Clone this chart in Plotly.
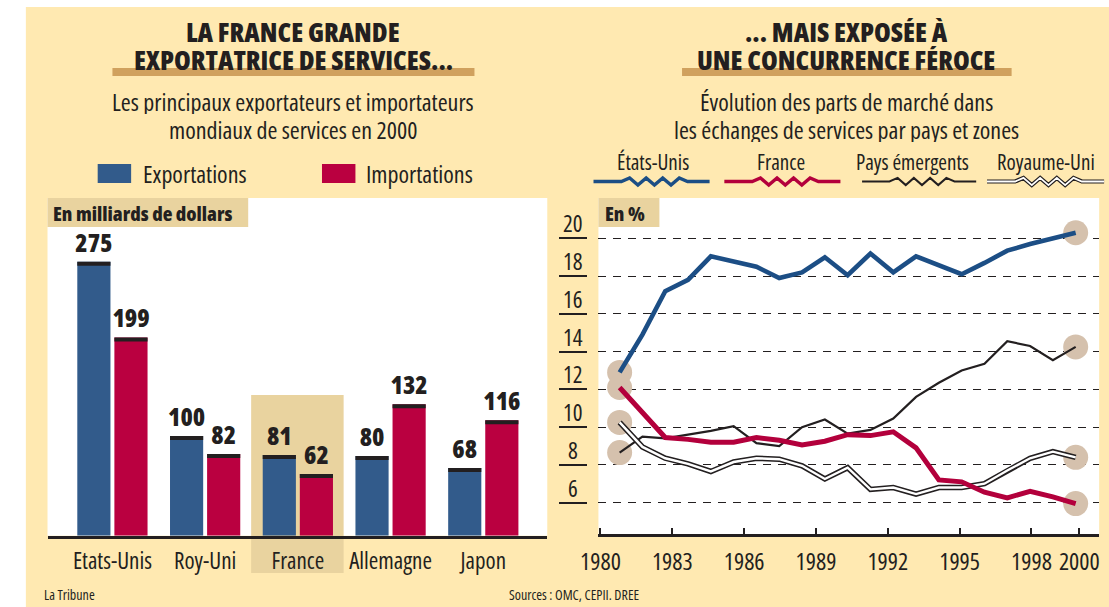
import plotly.graph_objects as go

W, H = 1109, 607

# ---------------- data ----------------
CATEGORIES = ["Etats-Unis", "Roy-Uni", "France", "Allemagne", "Japon"]
EXPORTS = [275, 100, 81, 80, 68]
IMPORTS = [199, 82, 62, 132, 116]

YEARS = list(range(1980, 2001))
ETATS_UNIS = [12.9, 14.9, 17.2, 17.8, 19.05, 18.8, 18.5, 17.9, 18.2, 19.0, 18.05,
              19.2, 18.2, 19.05, 18.6, 18.1, 18.7, 19.35, 19.7, 20.0, 20.3]
FRANCE = [12.1, 10.8, 9.45, 9.35, 9.2, 9.2, 9.45, 9.3, 9.05, 9.25, 9.6,
          9.55, 9.75, 8.9, 7.2, 7.1, 6.55, 6.25, 6.6, 6.3, 5.95]
PAYS_EMERGENTS = [8.65, 9.5, 9.4, 9.6, 9.8, 10.05, 9.15, 9.0, 10.0, 10.4, 9.65,
                  9.85, 10.45, 11.6, 12.35, 13.0, 13.35, 14.55, 14.3, 13.55, 14.25]
ROYAUME_UNI = [10.25, 8.95, 8.35, 8.05, 7.65, 8.15, 8.35, 8.3, 7.95, 7.25, 7.85,
               6.7, 6.8, 6.45, 6.8, 6.8, 7.0, 7.7, 8.35, 8.7, 8.4]

Y_TICKS = [6, 8, 10, 12, 14, 16, 18, 20]
X_TICK_YEARS = [1980, 1983, 1986, 1989, 1992, 1995, 1998, 2000]

# ---------------- style ----------------
FONT = "Open Sans"
INK = "#231F20"
YELLOW = "#FFE9B1"
TAN = "#E9D39F"
UNDERLINE = "#D0A15E"
CIRCLE = "#D5C1AD"
BAR_BLUE = "#325B8B"
BAR_RED = "#BA0040"
US_BLUE = "#1C4E85"
FR_RED = "#B3003C"


def cond(text, stretch="condensed"):
    return f"<span style='font-stretch:{stretch}'>{text}</span>"


def px(x):
    return x / W


def py(y):
    return 1 - y / H


def rect(x0, y0, x1, y1, color, layer="below"):
    return dict(type="rect", xref="paper", yref="paper", x0=px(x0), x1=px(x1),
                y0=py(y1), y1=py(y0), fillcolor=color, line=dict(width=0), layer=layer)


def wave_path(x0, x1, y, amp=3.6):
    w = x1 - x0
    zs = x0 + 0.24 * w
    ze = x0 + 0.81 * w
    pts = [(x0, y), (zs, y)]
    step = (ze - zs) / 8
    for j in range(1, 8):
        pts.append((zs + j * step, y - amp if j % 2 == 1 else y + amp))
    pts.append((ze, y))
    pts.append((x1, y))
    return "M " + " L ".join(f"{px(a):.5f},{py(b):.5f}" for a, b in pts)


def wave(x0, x1, y, color, width):
    return dict(type="path", xref="paper", yref="paper", path=wave_path(x0, x1, y),
                line=dict(color=color, width=width), layer="above")


shapes = [
    rect(8, 7, 1109, 607, YELLOW),
    rect(30, 198, 538, 535.7, "white"),
    rect(590, 198, 1099, 534.3, "white"),
    rect(30, 198, 234, 227, TAN),
    rect(590, 198, 652, 227, TAN),
    rect(237, 395, 331, 573, TAN),
    rect(96, 68, 464, 76, UNDERLINE),
    rect(675, 68, 1010, 76, UNDERLINE),
    rect(81, 164, 115, 183, BAR_BLUE),
    rect(309, 164, 343, 183, BAR_RED),
    wave(585, 703, 181.5, US_BLUE, 3.4),
    wave(718, 836, 181.5, FR_RED, 3.4),
    wave(858, 974, 181.5, INK, 2),
    wave(985, 1104, 181.5, INK, 4.2),
    wave(985, 1104, 181.5, "white", 1.8),
]

fig = go.Figure()

# ---------------- bar chart ----------------
CAP = 4
fig.add_trace(go.Bar(x=CATEGORIES, y=EXPORTS, marker=dict(color=BAR_BLUE, line=dict(width=0)),
                     offsetgroup="exp", xaxis="x", yaxis="y", showlegend=False, name="Exportations"))
fig.add_trace(go.Bar(x=CATEGORIES, y=IMPORTS, marker=dict(color=BAR_RED, line=dict(width=0)),
                     offsetgroup="imp", xaxis="x", yaxis="y", showlegend=False, name="Importations"))
for vals, grp in ((EXPORTS, "exp"), (IMPORTS, "imp")):
    fig.add_trace(go.Bar(x=CATEGORIES, y=[CAP] * len(vals), base=[v - CAP for v in vals],
                         marker=dict(color=INK, line=dict(width=0)), offsetgroup=grp,
                         text=[cond(str(v)) for v in vals], textposition="outside",
                         textfont=dict(family=FONT, size=25, color=INK, weight=800),
                         constraintext="none", cliponaxis=False, hoverinfo="skip",
                         xaxis="x", yaxis="y", showlegend=False))

# ---------------- line chart ----------------
for s in (ETATS_UNIS, FRANCE, ROYAUME_UNI, PAYS_EMERGENTS):
    fig.add_trace(go.Scatter(x=[YEARS[0], YEARS[-1]], y=[s[0], s[-1]], mode="markers",
                             marker=dict(size=25, color=CIRCLE, line=dict(width=0)),
                             xaxis="x2", yaxis="y2", showlegend=False, hoverinfo="skip"))
series = [
    (PAYS_EMERGENTS, INK, 2.2, "Pays émergents"),
    (ROYAUME_UNI, INK, 5.5, "Royaume-Uni"),
    (ROYAUME_UNI, "white", 2.4, "Royaume-Uni"),
    (FRANCE, FR_RED, 5, "France"),
    (ETATS_UNIS, US_BLUE, 4.6, "États-Unis"),
]
for s, c, w, n in series:
    fig.add_trace(go.Scatter(x=YEARS, y=s, mode="lines", line=dict(color=c, width=w), name=n,
                             xaxis="x2", yaxis="y2", showlegend=False))

# tick positions on the reference axis are drawn on a slightly wider scale than the data
TICK_POS = [1979.16 + (t - 1980) * 1.05 for t in X_TICK_YEARS]


def ann(x, y, text, size, xanchor="center", weight=400, stretch="condensed", height=None, **kw):
    d = dict(xref="paper", yref="paper", x=px(x), y=py(y), text=cond(text, stretch),
             showarrow=False, xanchor=xanchor, yanchor="middle",
             font=dict(family=FONT, size=size, color=INK, weight=weight), **kw)
    if height:
        d["height"] = height
    return d


annotations = [
    ann(280, 31, "LA FRANCE GRANDE", 27, weight=800, stretch="semi-condensed", height=27),
    ann(280, 60, "EXPORTATRICE DE SERVICES...", 27, weight=800, stretch="semi-condensed", height=27),
    ann(842, 31, "... MAIS EXPOSÉE À", 27, weight=800, stretch="semi-condensed", height=27),
    ann(842, 60, "UNE CONCURRENCE FÉROCE", 27, weight=800, stretch="semi-condensed", height=27),
    ann(280, 101, "Les principaux exportateurs et importateurs", 24, height=26),
    ann(280, 129, "mondiaux de services en 2000", 24, height=26),
    ann(842, 101, "Évolution des parts de marché dans", 24, height=26),
    ann(842, 129, "les échanges de services par pays et zones", 24, height=26),
    ann(125, 173, "Exportations", 24, xanchor="left"),
    ann(352, 173, "Importations", 24, xanchor="left"),
    ann(645, 162, "États-Unis", 21),
    ann(776, 162, "France", 21),
    ann(909, 162, "Pays émergents", 21),
    ann(1045, 162, "Royaume-Uni", 21),
    ann(34, 213, "En milliards de dollars", 20, xanchor="left", weight=800),
    ann(595, 213, "En %", 20, xanchor="left", weight=800),
    ann(24, 594, "La Tribune", 14, xanchor="left"),
    ann(497, 594, "Sources : OMC, CEPII. DREE", 14, xanchor="left"),
]
for t in Y_TICKS:
    annotations.append(dict(xref="paper", yref="y2", x=px(564), y=t, text=cond(str(t)), showarrow=False,
                            xanchor="center", yanchor="bottom", yshift=-3,
                            font=dict(family=FONT, size=23, color=INK)))

fig.update_layout(
    width=W, height=H, margin=dict(l=0, r=0, t=0, b=0),
    paper_bgcolor="white", plot_bgcolor="rgba(0,0,0,0)",
    barmode="group", bargap=0.2, bargroupgap=0.106,
    shapes=shapes, annotations=annotations,
    xaxis=dict(domain=[px(30), px(538)], range=[-0.70, 4.69], type="category",
               tickvals=CATEGORIES, ticktext=[cond(c) for c in CATEGORIES], tickangle=0,
               showline=True, linecolor=INK, linewidth=2.5, ticks="", showgrid=False,
               zeroline=False, tickfont=dict(family=FONT, size=23, color=INK),
               ticklabelstandoff=3, anchor="y", fixedrange=True),
    yaxis=dict(domain=[py(535.7), py(198)], range=[0, 339], visible=False,
               anchor="x", fixedrange=True),
    xaxis2=dict(domain=[px(590), px(1099)], range=[1979.07, 2001.03], anchor="y2",
                tickvals=TICK_POS, ticktext=[cond(str(t)) for t in X_TICK_YEARS], tickangle=0,
                ticks="inside", ticklen=7, tickwidth=1.6, tickcolor=INK,
                showline=True, linecolor=INK, linewidth=2.5, showgrid=False, zeroline=False,
                tickfont=dict(family=FONT, size=24, color=INK), ticklabelstandoff=4,
                fixedrange=True),
    yaxis2=dict(domain=[py(534.3), py(198)], range=[4.32, 22.14], anchor="free",
                position=px(578), tickvals=Y_TICKS, ticks="outside", ticklen=28,
                tickwidth=1.5, tickcolor=INK, showticklabels=False, showline=False,
                showgrid=True, gridcolor=INK, gridwidth=1, griddash="8px,7px",
                zeroline=False, fixedrange=True),
)

fig.write_html("out.html", config={"displayModeBar": False},
               post_script="document.body.style.margin='0';")
